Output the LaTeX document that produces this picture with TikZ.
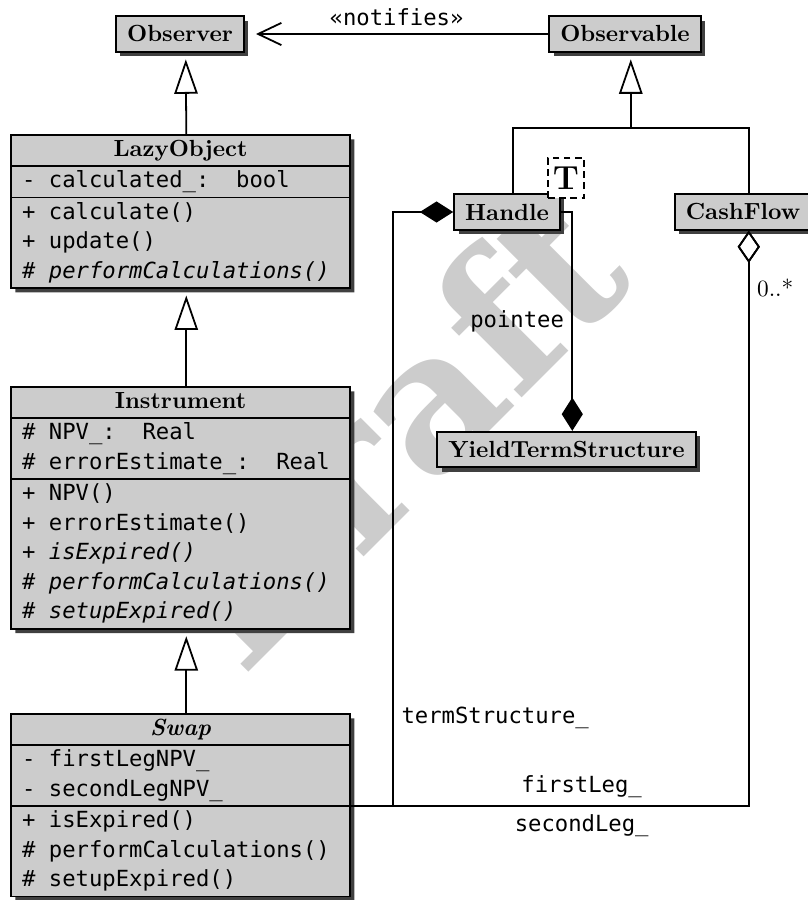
\documentclass[tikz,border=0pt]{standalone}
\usepackage{fontspec}
\setmonofont{DejaVu Sans Mono}
\newfontfamily\markfont{DejaVu Serif}
\usepackage{tikz}
\usetikzlibrary{shapes.multipart,shadows,arrows.meta}
\newlength{\lineoff}
\setlength{\lineoff}{2.6pt}
\newcommand{\titlefont}{\fontsize{10.5}{13.3}\selectfont\rmfamily\bfseries}
\tikzset{
  classbox/.style={draw, line width=0.8pt, fill=black!20,
    drop shadow={shadow xshift=2pt, shadow yshift=-2pt, fill=black!75, opacity=1}},
  simpleclass/.style={classbox, font=\titlefont, inner xsep=5pt, minimum height=16pt},
  fullclass/.style={classbox, rectangle split, rectangle split parts=3,
    rectangle split part align={center,left,left}, minimum width=152.5pt,
    inner xsep=5pt, inner ysep=0pt, anchor=north,
    font=\fontsize{10}{13.3}\selectfont\ttfamily},
  templateparam/.style={draw, dash pattern=on 3pt off 2pt, line width=0.7pt, fill=white,
    font=\fontsize{15}{17}\selectfont\bfseries, minimum width=16pt, minimum height=18pt, inner sep=1pt},
  link/.style={line width=0.8pt},
  inherit/.style={link, -{Triangle[open, length=15.5pt, width=10.5pt]}, shorten >=3pt},
  composite/.style={link, {Diamond[length=15pt, width=9.5pt]}-},
  aggregate/.style={link, {Diamond[open, length=14.5pt, width=10pt]}-},
  depend/.style={link, -{Straight Barb[length=10.5pt, width=10pt]}, shorten >=5pt},
  linklabel/.style={font=\fontsize{10}{12}\selectfont\ttfamily},
  multiplicity/.style={font=\fontsize{10.5}{12}\selectfont\rmfamily},
  watermark/.style={text=black!20, font=\fontsize{16.2}{16.2}\selectfont\markfont\bfseries, scale=5.3, rotate=45, inner sep=0pt}
}
\newcommand{\cdsimpleclass}[3] {\node at (#1) (#2) [simpleclass] {#3};}
\newcommand{\cdclass}[5] {\node at (#1) (#2) [fullclass] {\begin{tabular}{@{}c@{}}\titlefont #3\end{tabular}
  \nodepart{two}\begin{tabular}{@{}l@{}}#4\end{tabular}
  \nodepart{three}\begin{tabular}{@{}l@{}}#5\end{tabular}};}
\newcommand{\cdinherit}[2] {\draw [inherit] ([xshift=\lineoff]#1.north) -- ([xshift=\lineoff]#2.south);}

\begin{document}
\begin{tikzpicture}[x=0.45pt, y=-0.45pt]
\useasboundingbox (0,0) rectangle (807,900);

\node at (390,430) (draftmark) [watermark] {Draft};

\cdsimpleclass {180,34}{Observer}{Observer};
\cdsimpleclass {625,34}{Observable}{Observable};
\cdclass {180.5,134}{LazyObject}{LazyObject}{- calculated\_:~~bool}{+ calculate()\\+ update()\\\textit{\# performCalculations()}};
\cdclass {180.5,386}{Instrument}{Instrument}{\# NPV\_:~~Real\\\# errorEstimate\_:~~Real}{+ NPV()\\+ errorEstimate()\\\textit{+ isExpired()}\\\textit{\# performCalculations()}\\\textit{\# setupExpired()}};
\cdclass {180.5,713}{Swap}{\itshape Swap}{- firstLegNPV\_\\- secondLegNPV\_}{+ isExpired()\\\# performCalculations()\\\# setupExpired()};
\cdsimpleclass {507,212}{Handle}{Handle};
\cdsimpleclass {743,212}{CashFlow}{CashFlow};
\cdsimpleclass {566.5,449.5}{YieldTermStructure}{YieldTermStructure};
\node at (566,178) (handleparam) [templateparam] {T};

\draw [depend] (Observable.west) -- node [linklabel, above] {«notifies»} (Observer.east);
\cdinherit {LazyObject}{Observer};
\cdinherit {Instrument}{LazyObject};
\cdinherit {Swap}{Instrument};
\coordinate (obsjoin) at ([xshift=\lineoff, yshift=-34pt]Observable.south);
\draw [inherit] (obsjoin) -- ([xshift=\lineoff]Observable.south);
\draw [link] ([xshift=\lineoff]Handle.north) |- (obsjoin) -| ([xshift=\lineoff]CashFlow.north);

\draw [composite] ([xshift=\lineoff]YieldTermStructure.north) |- node [linklabel, pos=0.25, left] {pointee} (Handle.east);
\draw [composite] (Handle.west) -- ++(-60,0) |- node [linklabel, pos=0.426, right] {termStructure\_} (Swap.two split east);
\draw [aggregate] ([xshift=\lineoff]CashFlow.south) |- node [multiplicity, pos=0.05, right] {0..*} node [linklabel, pos=0.71, above] {firstLeg\_} (Swap.two split east);
\draw [aggregate] ([xshift=\lineoff]CashFlow.south) |- node [linklabel, pos=0.71, below] {secondLeg\_} (Swap.two split east);
\end{tikzpicture}
\end{document}
